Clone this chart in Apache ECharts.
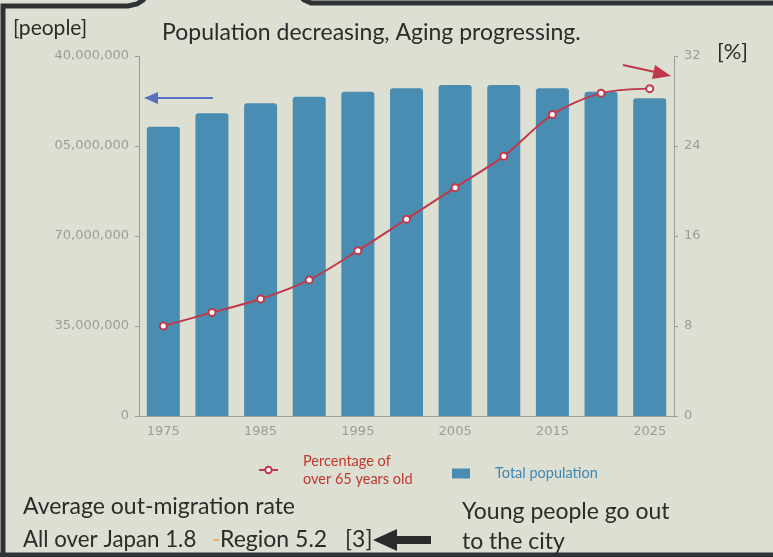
<!DOCTYPE html>
<html><head><meta charset="utf-8">
<script src="https://cdn.jsdelivr.net/npm/echarts@6/dist/echarts.min.js"></script>
<style>html,body{margin:0;padding:0;background:#dcdfd2;}#c{width:773px;height:557px;}</style>
</head><body><div id="c"></div>
<script>
const years = ['1975','1980','1985','1990','1995','2000','2005','2010','2015','2020','2025'];
const totalPopulation = [112500000,117700000,121600000,124200000,126100000,127500000,128700000,128700000,127500000,126100000,123600000];
const over65Pct = [8.0,9.2,10.4,12.1,14.7,17.5,20.3,23.1,26.8,28.7,29.1];
const leftTickLabels = ['0','35,000,000','70,000,000','05,000,000','40,000,000'];
const rightTickLabels = ['0','8','16','24','32'];
const lineName = 'Percentage of\nover 65 years old';
const barName = 'Total population';

const chart = echarts.init(document.getElementById('c'));
const F = 'Lato, "Open Sans", sans-serif';
const AF = '"DejaVu Sans", sans-serif';
const axisGray = '#9c9d9a';
const txt = '#2b2b2b';
function T(x, y, s, size, color) {
  return {type: 'text', x: x, y: y, style: {text: s, font: size + 'px ' + F, fill: color || txt, verticalAlign: 'middle'}};
}
chart.setOption({
  backgroundColor: '#dcdfd2',
  animation: false,
  grid: {left: 139, right: 99, top: 56, bottom: 141},
  legend: [
    {left: 253, top: 447, itemWidth: 19, itemHeight: 8,
     textStyle: {fontFamily: F, fontSize: 14.5, color: '#c0392b', lineHeight: 18, padding: [0, 0, 0, 20]},
     data: [lineName]},
    {left: 447, top: 461, itemWidth: 18, itemHeight: 10,
     textStyle: {fontFamily: F, fontSize: 14.5, color: '#3f86b5', padding: [0, 0, 0, 20]},
     data: [{name: barName, icon: 'rect'}]}
  ],
  xAxis: {
    type: 'category', data: years,
    axisLine: {lineStyle: {color: axisGray}},
    axisTick: {alignWithLabel: true, interval: 1, length: 4, lineStyle: {color: axisGray}},
    axisLabel: {interval: 1, color: axisGray, fontSize: 13, fontFamily: AF, margin: 9}
  },
  yAxis: [
    {type: 'value', min: 0, max: 140000000, interval: 35000000,
     axisLine: {show: true, lineStyle: {color: axisGray}},
     axisTick: {show: true, length: 4, lineStyle: {color: axisGray}},
     splitLine: {show: false},
     axisLabel: {color: axisGray, fontSize: 13, fontFamily: AF, margin: 10,
       formatter: (v) => leftTickLabels[Math.round(v / 35000000)]}},
    {type: 'value', min: 0, max: 32, interval: 8,
     axisLine: {show: true, lineStyle: {color: axisGray}},
     axisTick: {show: true, length: 4, lineStyle: {color: axisGray}},
     splitLine: {show: false},
     axisLabel: {color: axisGray, fontSize: 13, fontFamily: AF, margin: 10,
       formatter: (v) => rightTickLabels[Math.round(v / 8)]}}
  ],
  series: [
    {name: barName, type: 'bar', data: totalPopulation, barWidth: 33,
     itemStyle: {color: '#4a8db3', borderRadius: [3,3,0,0]}, z: 2},
    {name: lineName, type: 'line', yAxisIndex: 1, data: over65Pct,
     smooth: 0.3, symbol: 'circle', symbolSize: 7,
     lineStyle: {color: '#c0394b', width: 2},
     itemStyle: {color: '#fff', borderColor: '#c0394b', borderWidth: 2}, z: 3}
  ],
  graphic: [
    {type: 'polyline', shape: {points: [[3,560],[3,6],[128,6],[137,4],[143,0],[148,-6]]},
     style: {fill: 'none', stroke: '#2f3235', lineWidth: 5}, z: 100},
    {type: 'polyline', shape: {points: [[298,-6],[304,0],[311,3],[320,3],[790,3]]},
     style: {fill: 'none', stroke: '#2f3235', lineWidth: 5}, z: 100},
    {type: 'line', shape: {x1: 0, y1: 555, x2: 780, y2: 555}, style: {stroke: '#2f3235', lineWidth: 5}, z: 100},
    T(13, 28, '[people]', 21),
    T(162, 33, 'Population decreasing, Aging progressing.', 23),
    T(717, 52, '[%]', 22),
    T(23, 507, 'Average out-migration rate', 23),
    T(23, 540, 'All over Japan 1.8', 22.3),
    T(212, 540, '-', 23, '#e2a868'),
    T(220, 540, 'Region 5.2', 23),
    T(345, 540, '[3]', 23),
    T(462, 512, 'Young people go out', 23),
    T(462, 542, 'to the city', 23),
    {type: 'polygon', shape: {points: [[373,540],[397,529],[397,536],[431,536],[431,544],[397,544],[397,551]]}, style: {fill: '#2a2a2a'}},
    {type: 'line', shape: {x1: 152, y1: 98, x2: 213, y2: 98}, style: {stroke: '#5b6fc0', lineWidth: 2}},
    {type: 'polygon', shape: {points: [[144,98],[158,92],[158,104]]}, style: {fill: '#5b6fc0'}},
    {type: 'line', shape: {x1: 623, y1: 65, x2: 655, y2: 72}, style: {stroke: '#c0394b', lineWidth: 2}},
    {type: 'polygon', shape: {points: [[671,76],[652,79],[655,65]]}, style: {fill: '#c0394b'}}
  ]
});
</script></body></html>
